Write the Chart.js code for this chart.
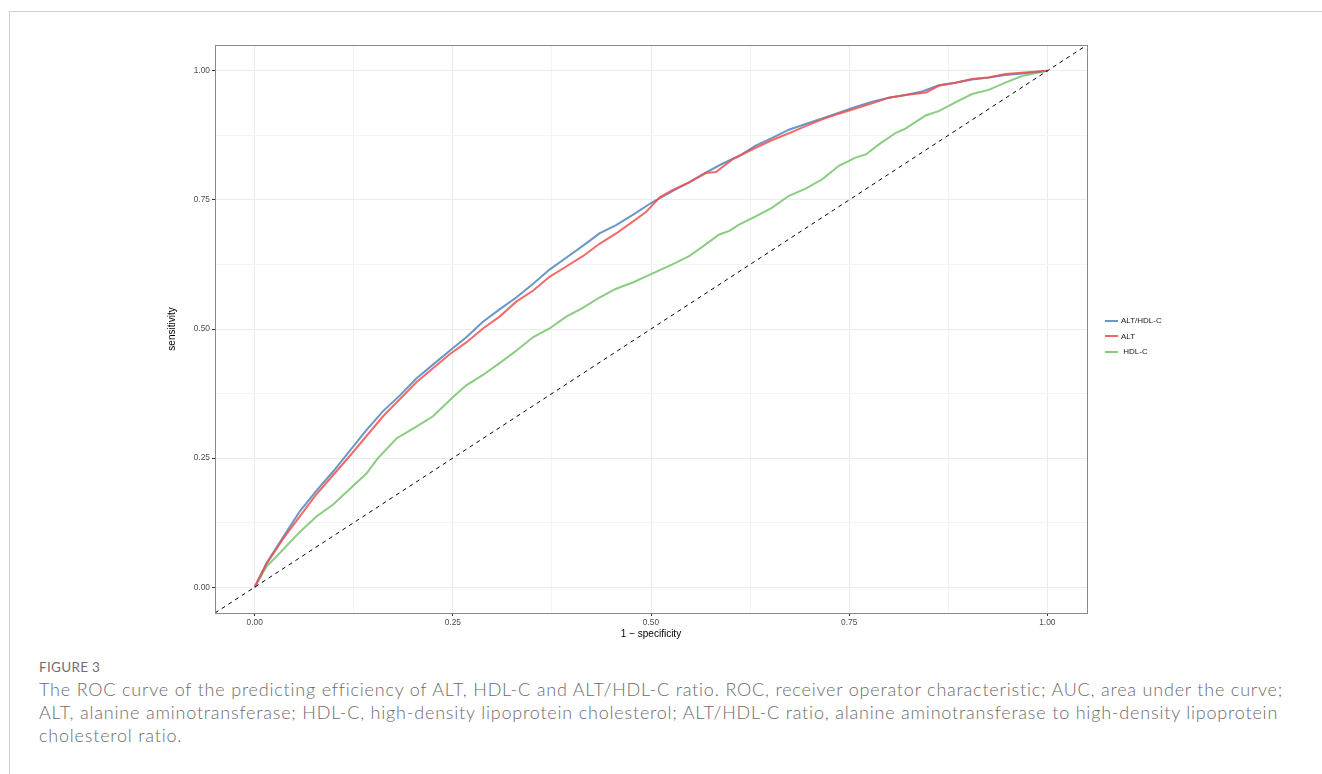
<!DOCTYPE html>
<html>
<head>
<meta charset="utf-8">
<script src="https://cdn.jsdelivr.net/npm/chart.js@4"></script>
<style>
	body { margin: 0; background: #fff; width: 1322px; height: 774px; overflow: hidden; position: relative; }
	.frame { position: absolute; left: 9px; top: 11px; right: 0; bottom: 0; border-left: 1px solid #cfcfcf; border-top: 1px solid #cfcfcf; }
	#wrap { position: absolute; left: 0; top: 0; width: 1322px; height: 650px; }
	#legend { position: absolute; left: 1105px; top: 313px; font-family: 'Liberation Sans', Arial, sans-serif; font-size: 8px; color: #1a1a1a; }
	#legend div { height: 15.5px; display: flex; align-items: center; }
	#legend span.key { display: inline-block; width: 13px; height: 2px; margin-right: 3px; }
	.caption { position: absolute; left: 39px; top: 656px; font-family: Lato, 'Open Sans', sans-serif; color: #6b6b6b; white-space: nowrap; }
	.caption h4 { margin: 0; font-size: 13.5px; font-weight: 400; color: #6f6f6f; letter-spacing: 0.3px; line-height: 22px; }
	.caption p { margin: 0; font-size: 18px; font-weight: 300; line-height: 22.8px; letter-spacing: 0.8px; }
</style>
</head>
<body>
<div class="frame"></div>
<div id="wrap"><canvas id="chart"></canvas></div>
<div id="legend"></div>
<div class="caption">
	<h4>FIGURE 3</h4>
	<p>The ROC curve of the predicting efficiency of ALT, HDL-C and ALT/HDL-C ratio. ROC, receiver operator characteristic; AUC, area under the curve;<br>ALT, alanine aminotransferase; HDL-C, high-density lipoprotein cholesterol; ALT/HDL-C ratio, alanine aminotransferase to high-density lipoprotein<br>cholesterol ratio.</p>
</div>
<script>
// series labels and colours
const labels = ['ALT/HDL-C', 'ALT', 'HDL-C'];
const colors = ['rgba(90,140,190,0.9)', 'rgba(240,80,80,0.85)', 'rgba(125,200,115,0.9)'];

// 1 - specificity / sensitivity
const ratioFpr = [0, 0.015, 0.036, 0.057, 0.078, 0.099, 0.120, 0.141, 0.162, 0.183, 0.204, 0.225, 0.246, 0.267, 0.288, 0.309, 0.330, 0.351, 0.372, 0.393, 0.414, 0.435, 0.456, 0.477, 0.500, 0.527, 0.548, 0.569, 0.590, 0.611, 0.632, 0.653, 0.674, 0.695, 0.716, 0.737, 0.758, 0.779, 0.800, 0.821, 0.842, 0.863, 0.884, 0.905, 0.926, 0.947, 0.968, 1];
const ratioTpr = [0, 0.047, 0.097, 0.147, 0.187, 0.224, 0.264, 0.304, 0.341, 0.371, 0.404, 0.431, 0.458, 0.484, 0.514, 0.538, 0.561, 0.587, 0.615, 0.638, 0.661, 0.685, 0.701, 0.721, 0.744, 0.767, 0.784, 0.803, 0.820, 0.835, 0.855, 0.870, 0.886, 0.897, 0.908, 0.919, 0.930, 0.940, 0.948, 0.953, 0.960, 0.972, 0.977, 0.983, 0.987, 0.992, 0.995, 1];

const altFpr = [0, 0.015, 0.036, 0.078, 0.120, 0.162, 0.204, 0.225, 0.246, 0.267, 0.288, 0.309, 0.330, 0.351, 0.372, 0.393, 0.414, 0.435, 0.456, 0.477, 0.494, 0.511, 0.527, 0.548, 0.569, 0.582, 0.603, 0.632, 0.653, 0.674, 0.695, 0.716, 0.737, 0.758, 0.779, 0.800, 0.821, 0.847, 0.863, 0.884, 0.905, 0.926, 0.947, 1];
const altTpr = [0, 0.045, 0.094, 0.180, 0.254, 0.331, 0.397, 0.424, 0.451, 0.474, 0.501, 0.524, 0.553, 0.574, 0.601, 0.621, 0.641, 0.665, 0.685, 0.708, 0.727, 0.755, 0.769, 0.784, 0.802, 0.804, 0.829, 0.851, 0.866, 0.879, 0.893, 0.906, 0.917, 0.927, 0.937, 0.948, 0.953, 0.958, 0.971, 0.977, 0.984, 0.987, 0.994, 1];

const hdlFpr = [0, 0.015, 0.036, 0.057, 0.078, 0.099, 0.120, 0.141, 0.155, 0.179, 0.204, 0.225, 0.250, 0.267, 0.288, 0.309, 0.330, 0.351, 0.372, 0.393, 0.414, 0.435, 0.456, 0.477, 0.498, 0.527, 0.548, 0.569, 0.586, 0.599, 0.611, 0.632, 0.653, 0.674, 0.695, 0.716, 0.737, 0.758, 0.771, 0.788, 0.809, 0.821, 0.847, 0.863, 0.884, 0.905, 0.926, 0.947, 0.968, 1];
const hdlTpr = [0, 0.040, 0.073, 0.107, 0.137, 0.160, 0.190, 0.220, 0.249, 0.288, 0.311, 0.331, 0.368, 0.391, 0.411, 0.434, 0.458, 0.484, 0.501, 0.524, 0.541, 0.561, 0.578, 0.590, 0.605, 0.625, 0.641, 0.664, 0.683, 0.690, 0.702, 0.718, 0.735, 0.758, 0.772, 0.790, 0.816, 0.832, 0.838, 0.858, 0.880, 0.888, 0.914, 0.922, 0.939, 0.955, 0.963, 0.977, 0.990, 1];

// reference diagonal, across the whole panel
const diagX = [-0.05, 1.05];
const diagY = [-0.05, 1.05];

const tickValues = [0, 0.125, 0.25, 0.375, 0.5, 0.625, 0.75, 0.875, 1];

const toPoints = (xs, ys) => xs.map((x, i) => ({ x: x, y: ys[i] }));
const isMajor = (v) => Math.abs(v * 4 - Math.round(v * 4)) < 1e-6;

function axis(title, isX) {
	return {
		type: 'linear',
		min: -0.05,
		max: 1.05,
		afterBuildTicks: (scale) => { scale.ticks = tickValues.map(v => ({ value: v })); },
		afterFit: (scale) => { if (isX) scale.height = 27; else scale.width = 55; },
		grid: {
			color: (c) => isMajor(c.tick.value) ? '#ebebeb' : '#f4f4f4',
			lineWidth: 1,
			tickColor: (c) => isMajor(c.tick.value) ? '#333' : 'rgba(0,0,0,0)',
			tickLength: 3,
			drawTicks: true,
		},
		border: { display: false },
		ticks: {
			autoSkip: false,
			maxRotation: 0,
			padding: 2,
			color: '#4d4d4d',
			font: { family: 'Liberation Sans', size: 8.4 },
			callback: (v) => isMajor(v) ? v.toFixed(2) : '',
		},
		title: {
			display: true,
			text: title,
			color: '#000',
			font: { family: 'Liberation Sans', size: 10 },
			padding: isX ? { top: 1, bottom: 0 } : { top: 6, bottom: 0 },
		},
	};
}

// panel border on top of everything, like ggplot's theme_bw
const panelBorder = {
	id: 'panelBorder',
	afterDatasetsDraw(chart) {
		const a = chart.chartArea;
		const c = chart.ctx;
		c.save();
		c.strokeStyle = '#8a8a8a';
		c.lineWidth = 1;
		c.strokeRect(Math.round(a.left) + 0.5, Math.round(a.top) + 0.5, Math.round(a.right - a.left), Math.round(a.bottom - a.top));
		c.restore();
	},
};

const seriesX = [ratioFpr, altFpr, hdlFpr];
const seriesY = [ratioTpr, altTpr, hdlTpr];
const drawOrder = [2, 1, 3];

const datasets = labels.map((l, i) => ({
	label: l,
	data: toPoints(seriesX[i], seriesY[i]),
	borderColor: colors[i],
	borderWidth: 2,
	pointRadius: 0,
	showLine: true,
	tension: 0,
	order: drawOrder[i],
}));
datasets.push({
	label: 'diagonal',
	data: toPoints(diagX, diagY),
	borderColor: '#000',
	borderWidth: 1,
	borderDash: [4, 4],
	pointRadius: 0,
	showLine: true,
	order: 0,
});

new Chart(document.querySelector('#chart').getContext('2d'), {
	type: 'scatter',
	data: { datasets: datasets },
	options: {
		responsive: true,
		maintainAspectRatio: false,
		animation: false,
		layout: { padding: { left: 160, top: 45, right: 235, bottom: 10 } },
		plugins: { legend: { display: false }, tooltip: { enabled: false } },
		scales: {
			x: axis('1 \u2212 specificity', true),
			y: axis('sensitivity', false),
		},
	},
	plugins: [panelBorder],
});

// legend
const legend = document.querySelector('#legend');
labels.forEach((l, i) => {
	const row = document.createElement('div');
	row.innerHTML = '<span class="key" style="background:' + colors[i] + '"></span>' + (i === 2 ? '&nbsp;' : '') + l;
	legend.appendChild(row);
});
</script>
</body>
</html>
